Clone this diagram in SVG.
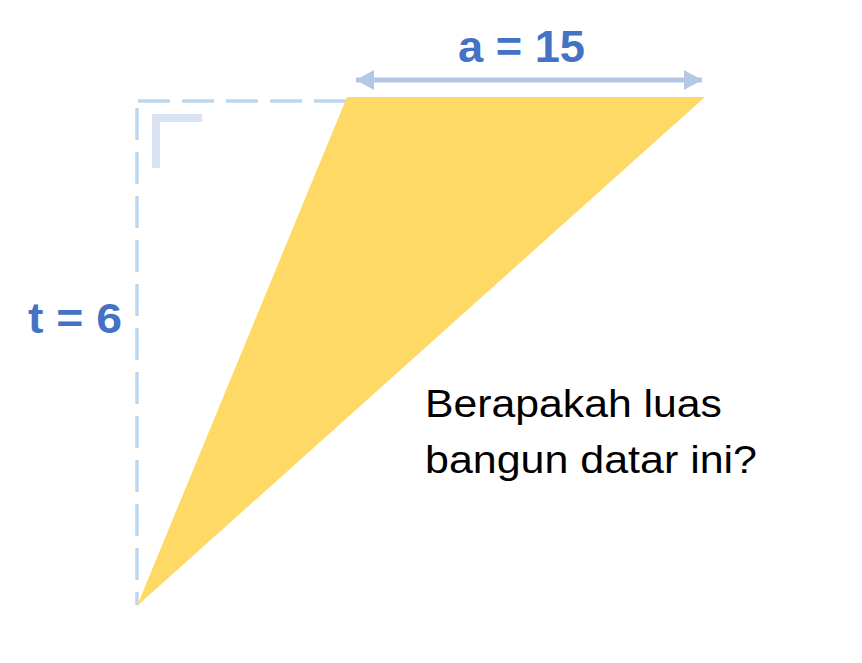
<svg xmlns="http://www.w3.org/2000/svg" width="862" height="663" viewBox="0 0 862 663">
<style>
.dash{fill:none;stroke:#bdd7ee;stroke-width:3.5;stroke-dasharray:32 12}
.lbl{font-family:"Liberation Sans",Arial,sans-serif;font-weight:bold;fill:#4472c4}
.q{font-family:"Liberation Sans",Arial,sans-serif;font-size:38px;fill:#000}
</style>
<defs>
<marker id="ah" viewBox="0 0 18 20" refX="18" refY="10" markerWidth="18" markerHeight="20" markerUnits="userSpaceOnUse" orient="auto-start-reverse">
<path d="M0,0 L18,10 L0,20 Z" fill="#b4c7e7"/>
</marker>
</defs>
<rect width="862" height="663" fill="#fff"/>
<g id="guides">
<line class="dash" x1="138" y1="101" x2="347" y2="101"/>
<line class="dash" x1="137" y1="108" x2="137" y2="605"/>
<path d="M156,168 V118 H202" fill="none" stroke="#dae3f3" stroke-width="8"/>
</g>
<g id="triangle">
<polygon points="347,97 705,97 137,606" fill="#ffd966"/>
</g>
<g id="connectors">
<line x1="356" y1="80" x2="702" y2="80" stroke="#b4c7e7" stroke-width="5" marker-start="url(#ah)" marker-end="url(#ah)"/>
</g>
<g id="label-a">
<text class="lbl" x="458" y="62" font-size="45" textLength="127" lengthAdjust="spacingAndGlyphs">a = 15</text>
</g>
<g id="label-t">
<text class="lbl" x="28" y="333" font-size="43" textLength="94" lengthAdjust="spacingAndGlyphs">t = 6</text>
</g>
<g id="question">
<text class="q" x="425" y="417" textLength="297" lengthAdjust="spacingAndGlyphs">Berapakah luas</text>
<text class="q" x="425" y="473" textLength="332" lengthAdjust="spacingAndGlyphs">bangun datar ini?</text>
</g>
</svg>
